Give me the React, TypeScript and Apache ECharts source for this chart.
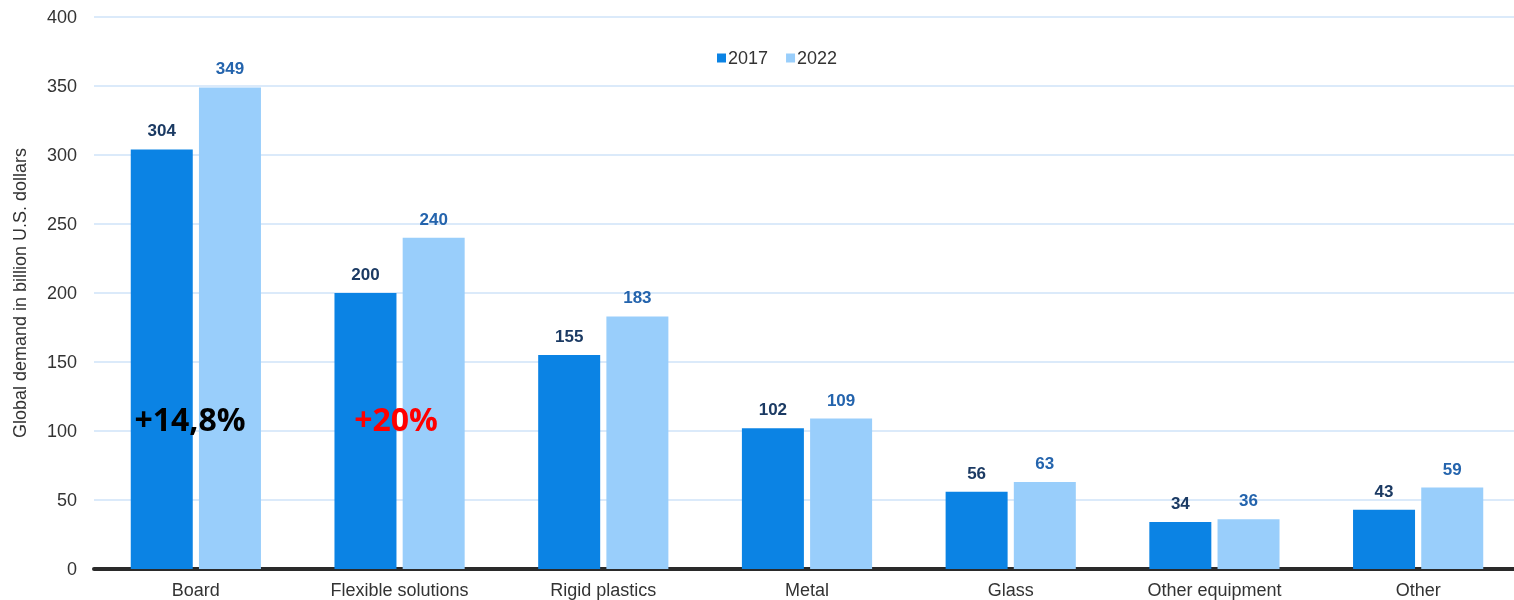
import React, { useEffect, useRef } from "react";
import * as echarts from "echarts";

const categories = ["Board", "Flexible solutions", "Rigid plastics", "Metal", "Glass", "Other equipment", "Other"];
const values2017 = [304, 200, 155, 102, 56, 34, 43];
const values2022 = [349, 240, 183, 109, 63, 36, 59];
const seriesNames = ["2017", "2022"];
const yAxisTitle = "Global demand in billion U.S. dollars";
const annotations = [
  { text: "+14,8%", color: "#000000", x: 190, y: 418 },
  { text: "+20%", color: "#ff0000", x: 396, y: 418 },
];

export default function App() {
  const ref = useRef<HTMLDivElement>(null);
  useEffect(() => {
    document.body.style.margin = "0";
    const chart = echarts.init(ref.current!, null, { renderer: "svg" });
    chart.setOption({
      animation: false,
      textStyle: { fontFamily: "Liberation Sans, Arial, sans-serif" },
      legend: {
        data: seriesNames,
        left: 712,
        top: 44,
        itemWidth: 9,
        itemHeight: 9,
        itemGap: 18,
        icon: "rect",
        textStyle: { fontSize: 18, color: "#333333", padding: [0, 0, 0, -3] },
      },
      grid: { left: 94, right: 10, top: 17, bottom: 31, containLabel: false },
      xAxis: {
        type: "category",
        data: categories,
        axisLine: { show: true, lineStyle: { color: "#2a2a2a", width: 4 } },
        axisTick: { show: false },
        axisLabel: { fontSize: 18, color: "#333333", margin: 12 },
      },
      yAxis: {
        type: "value",
        min: 0,
        max: 400,
        interval: 50,
        name: yAxisTitle,
        nameLocation: "middle",
        nameGap: 65,
        nameTextStyle: { fontSize: 18, color: "#333333" },
        axisLine: { show: false },
        axisTick: { show: false },
        axisLabel: { fontSize: 18, color: "#333333", margin: 17 },
        splitLine: { lineStyle: { color: "#dbeafa", width: 2 } },
      },
      series: [
        {
          name: seriesNames[0],
          type: "bar",
          data: values2017,
          barWidth: 62,
          barGap: "10%",
          itemStyle: { color: "#0b83e4" },
          label: {
            show: true,
            position: "top",
            distance: 10,
            fontSize: 17,
            fontWeight: "bold",
            color: "#1b3a63",
          },
        },
        {
          name: seriesNames[1],
          type: "bar",
          data: values2022,
          barWidth: 62,
          barGap: "10%",
          itemStyle: { color: "#99cefb" },
          label: {
            show: true,
            position: "top",
            distance: 10,
            fontSize: 17,
            fontWeight: "bold",
            color: "#2464ad",
          },
        },
      ],
      graphic: annotations.map((a) => ({
        type: "text",
        x: a.x,
        y: a.y,
        z: 100,
        style: {
          text: a.text,
          fill: a.color,
          fontSize: 32,
          fontWeight: "bold",
          fontFamily: "Open Sans, sans-serif",
          align: "center",
          verticalAlign: "middle",
        },
      })),
    });
    return () => chart.dispose();
  }, []);
  return (
    <div
      ref={ref}
      style={{ position: "fixed", left: 0, top: 0, width: 1530, height: 600 }}
    />
  );
}
